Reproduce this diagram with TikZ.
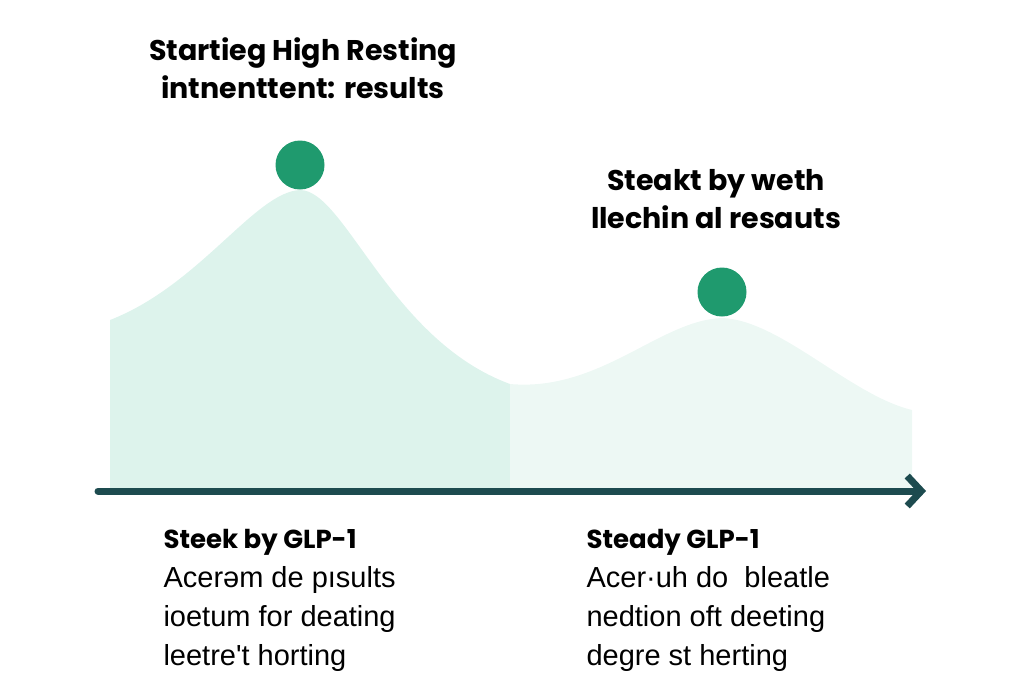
\documentclass[tikz,border=0pt]{standalone}
\usepackage{fontspec}
\setmainfont{Poppins}
\newfontfamily\bodyfont{Liberation Sans}
\usetikzlibrary{arrows.meta}
\definecolor{peakgreen}{HTML}{1F9A6E}
\definecolor{axisteal}{HTML}{1D4B4F}
\definecolor{fillleft}{HTML}{DDF3EC}
\definecolor{fillright}{HTML}{EDF8F4}

\begin{document}
\begin{tikzpicture}[
  x=1pt, y=-1pt,
  title/.style={font=\fontsize{28.5}{38}\selectfont\bfseries, align=center},
  caption/.style={font=\fontsize{29}{39}\selectfont, align=left, anchor=north west},
  peak/.style={circle, fill=peakgreen, minimum size=49pt, inner sep=0pt},
  axis/.style={-{Straight Barb[length=14pt, width=30pt, line width=7pt]}, line width=7pt, draw=axisteal, line cap=round}
]
\useasboundingbox (0,0) rectangle (1024,683);

% shaded curve
\fill[fillleft] (110,490) -- (110,320) .. controls (200,285) and (255,192) .. (300,190)
  .. controls (345,190) and (390,340) .. (510,384) -- (510,490) -- cycle;
\fill[fillright] (510,490) -- (510,384) .. controls (600,392) and (660,320) .. (722,318)
  .. controls (780,320) and (850,395) .. (912,410) -- (912,490) -- cycle;

\node[peak] (peakone) at (300,165) {};
\node[peak] (peaktwo) at (722,292) {};

\coordinate (axisstart) at (98,491);
\coordinate (axisend) at (926,491);
\draw[axis] (axisstart) -- (axisend);

\node[title] (toplabel) at (303,68) {Startieg High Resting\\intnenttent: results};
\node[title] (sidelabel) at (716,199) {Steakt by weth\\llechin al resauts};

\node[caption] (leftnote) at (160,526) {{\fontsize{26}{39}\selectfont\bfseries Steek by GLP-1}\\{\bodyfont Acerəm de pısults}\\{\bodyfont ioetum for deating}\\{\bodyfont leetre't horting}};
\node[caption] (rightnote) at (583,526) {{\fontsize{26}{39}\selectfont\bfseries Steady GLP-1}\\{\bodyfont Acer·uh do\ \ bleatle}\\{\bodyfont nedtion oft deeting}\\{\bodyfont degre st herting}};

\end{tikzpicture}
\end{document}
